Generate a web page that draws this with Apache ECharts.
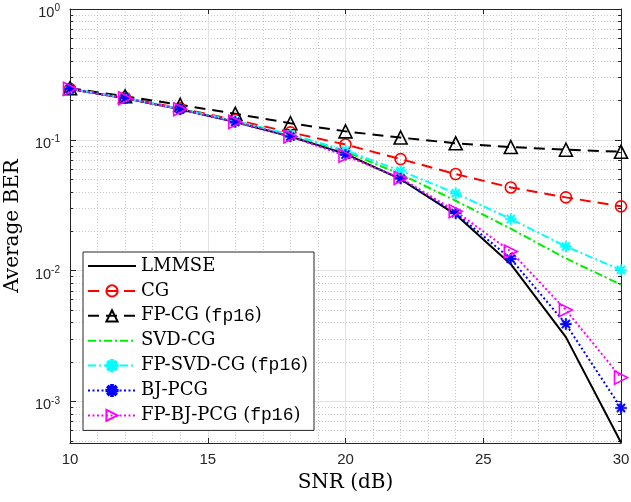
<!DOCTYPE html>
<html>
<head>
<meta charset="utf-8">
<title>Average BER vs SNR</title>
<script src="https://cdn.jsdelivr.net/npm/echarts@6.0.0/dist/echarts.min.js"></script>
<style>
  html, body { margin: 0; padding: 0; background: #fff; }
  #chart { width: 631px; height: 502px; }
</style>
</head>
<body>
<div id="chart"></div>
<script>
// SNR points (dB)
var snr = [10, 12, 14, 16, 18, 20, 22, 24, 26, 28, 30];

// average BER
var lmmse   = [0.245, 0.208, 0.171, 0.137, 0.106, 0.078, 0.050, 0.0268, 0.0112, 0.0031, 0.000485];
var cg      = [0.245, 0.210, 0.174, 0.142, 0.114, 0.092, 0.0712, 0.0547, 0.0432, 0.0363, 0.031];
var fpCg    = [0.248, 0.215, 0.185, 0.158, 0.134, 0.116, 0.104, 0.094, 0.088, 0.084, 0.081];
var svdCg   = [0.245, 0.209, 0.172, 0.139, 0.109, 0.081, 0.0547, 0.0342, 0.0209, 0.0124, 0.0078];
var fpSvdCg = [0.245, 0.209, 0.172, 0.139, 0.110, 0.083, 0.058, 0.039, 0.0248, 0.0153, 0.0101];
var bjPcg   = [0.245, 0.208, 0.171, 0.137, 0.106, 0.077, 0.0505, 0.0275, 0.0123, 0.0039, 0.00089];
var fpBjPcg = [0.245, 0.208, 0.171, 0.137, 0.106, 0.0755, 0.051, 0.0284, 0.014, 0.0050, 0.00152];

// axis ticks
var xTicks = [10, 15, 20, 25, 30];
var yDecades = [-3, -2, -1, 0];   // exponents of the labelled decades

var LOG_MIN = -3.318;
var yMinor = [];
for (var d = -4; d < 0; d++) {
  for (var k = 2; k <= 9; k++) {
    var v = d + Math.log10(k);
    if (v > LOG_MIN) yMinor.push(v);
  }
}

var AX = '#262626';
var ASTERISK = 'path://M0 8.5L20 8.5L20 11.5L0 11.5Z M8.5 0L11.5 0L11.5 20L8.5 20Z ' +
  'M1.87 3.99L3.99 1.87L18.13 16.01L16.01 18.13Z M16.01 1.87L18.13 3.99L3.99 18.13L1.87 16.01Z';

function toLog(vals) {
  return snr.map(function (x, i) { return [x, Math.log10(vals[i])]; });
}

function line(name, vals, color, dash, symbol, size, hollow, rotate) {
  var style;
  if (!symbol) {
    // no marker: keep an invisible one so the legend shows only the line
    style = { color: 'rgba(0,0,0,0)', borderWidth: 0 };
  } else if (hollow) {
    style = { color: 'rgba(255,255,255,0)', borderColor: color, borderWidth: 1.6 };
  } else {
    style = { color: color, borderColor: color, borderWidth: 0.5 };
  }
  return {
    name: name,
    type: 'line',
    data: toLog(vals),
    xAxisIndex: 0,
    yAxisIndex: 0,
    symbol: symbol || 'circle',
    symbolSize: size || 1,
    symbolRotate: rotate || 0,
    showSymbol: !!symbol,
    lineStyle: { color: color, width: 2, type: dash, cap: 'butt' },
    itemStyle: style,
    emphasis: { disabled: true },
    z: 3
  };
}

var chart = echarts.init(document.getElementById('chart'));

chart.setOption({
  animation: false,
  backgroundColor: '#fff',
  grid: { left: 70, right: 10, top: 9, bottom: 59, containLabel: false, outerBoundsMode: 'none' },
  legend: {
    orient: 'vertical',
    left: 83,
    top: 252,
    itemWidth: 48,
    itemHeight: 14,
    itemGap: 6.9,
    padding: [5, 6, 6, 4],
    backgroundColor: '#fff',
    borderColor: AX,
    borderWidth: 1,
    borderRadius: 0,
    selectedMode: false,
    textStyle: {
      fontFamily: 'DejaVu Serif',
      fontSize: 18,
      lineHeight: 14,
      color: '#000',
      rich: {
        m: { fontFamily: 'Liberation Mono', fontSize: 18, lineHeight: 14, color: '#000' }
      }
    },
    formatter: function (name) {
      return name.replace('fp16', '{m|fp16}');
    },
    z: 10
  },
  xAxis: [
    {
      type: 'value', position: 'bottom', min: 10, max: 30, interval: 5,
      name: 'SNR (dB)', nameLocation: 'middle', nameGap: 30,
      nameTextStyle: { fontFamily: 'DejaVu Serif', fontSize: 20, color: '#000' },
      axisLine: { show: true, onZero: false, lineStyle: { color: AX, width: 1 } },
      axisTick: { show: true, inside: true, length: 5, lineStyle: { color: AX } },
      axisLabel: { fontFamily: 'Liberation Sans', fontSize: 15, color: AX, margin: 9 },
      splitLine: { show: true, lineStyle: { color: '#e2e2e2', width: 1 } },
      minorTick: { show: false, splitNumber: 5 },
      minorSplitLine: { show: true, lineStyle: { color: '#c9c9c9', width: 1, type: [1, 2] } }
    },
    {
      type: 'value', position: 'top', min: 10, max: 30, interval: 5,
      axisLine: { show: true, onZero: false, lineStyle: { color: AX, width: 1 } },
      axisTick: { show: true, inside: true, length: 5, lineStyle: { color: AX } },
      axisLabel: { show: false },
      splitLine: { show: false }
    }
  ],
  yAxis: [
    {
      type: 'value', position: 'left', min: LOG_MIN, max: 0,
      name: 'Average BER', nameLocation: 'middle', nameGap: 47,
      nameTextStyle: { fontFamily: 'DejaVu Serif', fontSize: 20, color: '#000' },
      axisLine: { show: true, onZero: false, lineStyle: { color: AX, width: 1 } },
      axisTick: { show: true, inside: true, length: 6, customValues: yDecades, lineStyle: { color: AX } },
      axisLabel: {
        customValues: yDecades,
        margin: 10,
        fontFamily: 'Liberation Sans',
        fontSize: 14.5,
        color: AX,
        padding: [8, 0, 0, 0],
        formatter: function (val) { return '10{s|' + Math.round(val) + '}'; },
        rich: {
          s: { fontFamily: 'Liberation Sans', fontSize: 10, color: AX, padding: [0, 0, 9, 0] }
        }
      },
      splitLine: { show: true, lineStyle: { color: '#e2e2e2', width: 1 } }
    },
    {
      type: 'value', position: 'left', min: LOG_MIN, max: 0,
      axisLine: { show: false },
      axisTick: { show: true, inside: true, length: 3, customValues: yMinor, lineStyle: { color: AX } },
      axisLabel: { show: false, customValues: yMinor },
      splitLine: { show: true, lineStyle: { color: '#c9c9c9', width: 1, type: [1, 2] } }
    },
    {
      type: 'value', position: 'right', min: LOG_MIN, max: 0,
      axisLine: { show: true, onZero: false, lineStyle: { color: AX, width: 1 } },
      axisTick: { show: true, inside: true, length: 6, customValues: yDecades, lineStyle: { color: AX } },
      axisLabel: { show: false, customValues: yDecades },
      splitLine: { show: false }
    },
    {
      type: 'value', position: 'right', min: LOG_MIN, max: 0,
      axisLine: { show: false },
      axisTick: { show: true, inside: true, length: 3, customValues: yMinor, lineStyle: { color: AX } },
      axisLabel: { show: false, customValues: yMinor },
      splitLine: { show: false }
    }
  ],
  series: [
    line('LMMSE', lmmse, '#000000', 'solid'),
    line('CG', cg, '#ff0000', [11, 7], 'circle', 11, true),
    line('FP-CG (fp16)', fpCg, '#000000', [11, 7], 'triangle', 13, true),
    line('SVD-CG', svdCg, '#00ee00', [8, 3, 2, 3]),
    line('FP-SVD-CG (fp16)', fpSvdCg, '#00ffff', [8, 3, 2, 3], ASTERISK, 11, false),
    line('BJ-PCG', bjPcg, '#0000ff', [2, 2.5], ASTERISK, 11, false),
    line('FP-BJ-PCG (fp16)', fpBjPcg, '#ff00ff', [2, 2.5], 'triangle', 13, true, -90)
  ]
});
</script>
</body>
</html>
